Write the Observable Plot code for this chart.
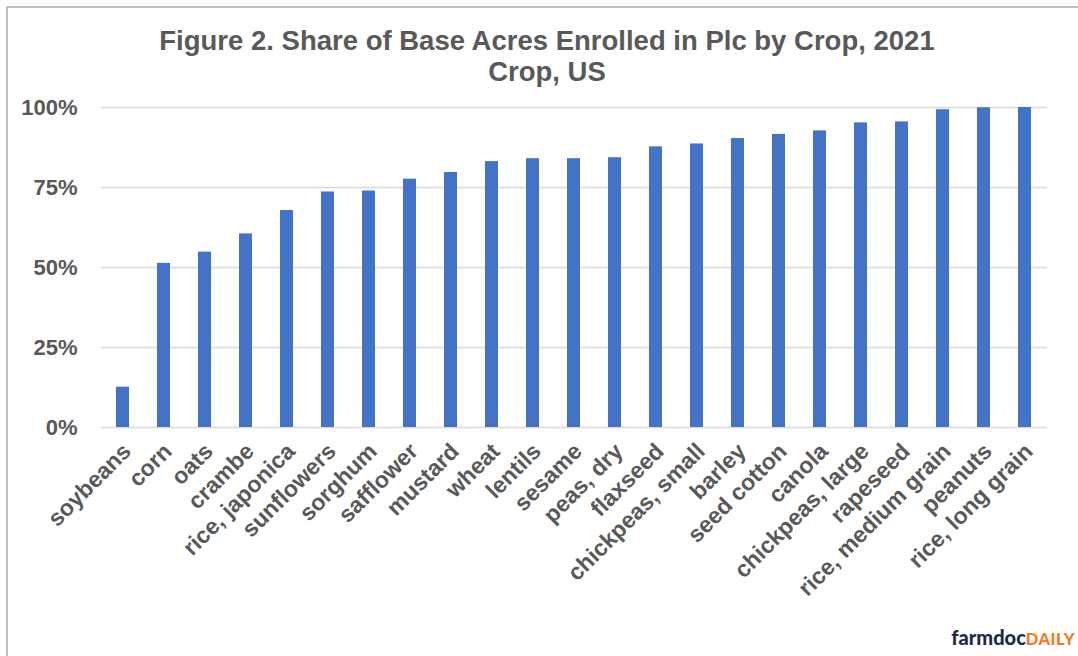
<!DOCTYPE html>
<html>
<head>
<meta charset="utf-8">
<script src="https://cdn.jsdelivr.net/npm/d3@7"></script>
<script src="https://cdn.jsdelivr.net/npm/@observablehq/plot@0.6"></script>
<style>
  html, body { margin: 0; padding: 0; background: #fff; }
  #frame { position: relative; width: 1078px; height: 656px; overflow: hidden; background: #fff; }
  #border { position: absolute; left: 6px; top: 6px; right: -10px; bottom: -10px; border-top: 2px solid #c0c0c0; border-left: 2px solid #c0c0c0; }
  #title { position: absolute; left: 0; top: 0; width: 1078px; height: 95px; text-align: center; font-family: "Liberation Sans", Arial, sans-serif; font-weight: bold; font-size: 27.5px; color: #595959; line-height: 31px; padding-left: 16px; box-sizing: border-box; }
  #title div:first-child { padding-top: 25px; }
  #chart { position: absolute; left: 0; top: 95px; }
  #logo { position: absolute; right: 3px; top: 625px; font-family: "Lato", "Open Sans", sans-serif; font-weight: 900; }
  #logo .a { color: #1d2a48; font-size: 20px; }
  #logo .b { color: #f47b20; font-size: 16.5px; letter-spacing: 0.5px; }
</style>
</head>
<body>
<div id="frame">
  <div id="border"></div>
  <div id="title"><div>Figure 2. Share of Base Acres Enrolled in Plc by Crop, 2021</div><div>Crop, US</div></div>
  <div id="chart"></div>
  <div id="logo"><span class="a">farmdoc</span><span class="b">DAILY</span></div>
</div>
<script>
const crops = ["soybeans","corn","oats","crambe","rice, japonica","sunflowers","sorghum","safflower","mustard","wheat","lentils","sesame","peas, dry","flaxseed","chickpeas, small","barley","seed cotton","canola","chickpeas, large","rapeseed","rice, medium grain","peanuts","rice, long grain"];
const shares = [12.6,51.3,54.8,60.5,67.8,73.6,73.9,77.6,79.7,83.1,84.0,84.0,84.3,87.7,88.6,90.3,91.6,92.7,95.2,95.5,99.3,99.9,100];
const yTicks = [0,25,50,75,100];
const yTickLabels = ["0%","25%","50%","75%","100%"];

const data = crops.map((c, i) => ({crop: c, share: shares[i]}));

const chart = Plot.plot({
  width: 1078,
  height: 561,
  marginTop: 12,
  marginBottom: 229,
  marginLeft: 101,
  marginRight: 31,
  style: {fontFamily: "'Liberation Sans', Arial, sans-serif", fontWeight: "bold", fontSize: "22px", color: "#595959", background: "transparent"},
  x: {domain: crops, paddingInner: 0.68, paddingOuter: 0.34, label: null},
  y: {domain: [0, 100], label: null},
  marks: [
    Plot.gridY(yTicks, {stroke: "#d9d9d9", strokeOpacity: 1, strokeWidth: 1.5}),
    Plot.barY(data, {x: "crop", y: "share", fill: "#4472c4"}),
    Plot.axisY(yTicks, {tickSize: 0, tickPadding: 24, tickFormat: (d) => yTickLabels[yTicks.indexOf(d)], fill: "#595959", fontSize: 22, fontWeight: "bold", label: null}),
    Plot.axisX({tickSize: 0, tickPadding: 12, tickRotate: -45, dx: 4, dy: 8, fill: "#595959", fontSize: 23, fontWeight: "bold", label: null})
  ]
});
document.getElementById("chart").appendChild(chart);
</script>
</body>
</html>
